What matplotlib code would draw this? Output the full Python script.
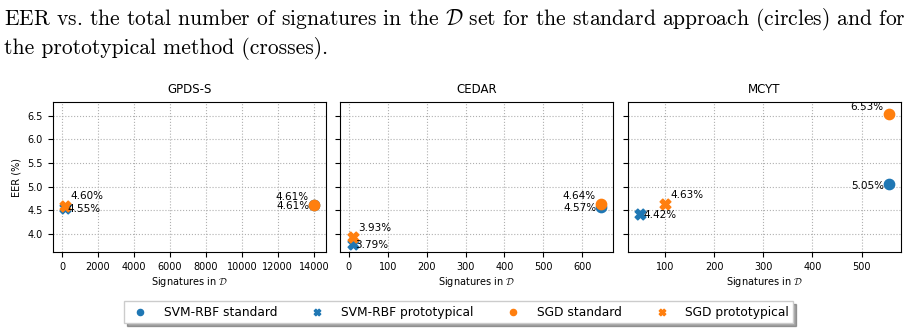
import matplotlib
matplotlib.use("Agg")
import matplotlib.pyplot as plt

plt.rcParams['mathtext.fontset'] = 'cm'

datasets = ["GPDS-S", "CEDAR", "MCYT"]
# x: number of signatures in D, y: EER (%)
svm_std_x = [14000, 648, 555]
svm_std_y = [4.61, 4.57, 5.05]
svm_proto_x = [150, 10, 50]
svm_proto_y = [4.55, 3.79, 4.42]
sgd_std_x = [14000, 648, 555]
sgd_std_y = [4.61, 4.64, 6.53]
sgd_proto_x = [150, 10, 100]
sgd_proto_y = [4.60, 3.93, 4.63]

xticks = [
    [0, 2000, 4000, 6000, 8000, 10000, 12000, 14000],
    [0, 100, 200, 300, 400, 500, 600],
    [100, 200, 300, 400, 500],
]
yticks = [4.0, 4.5, 5.0, 5.5, 6.0, 6.5]

blue = '#1f77b4'
orange = '#ff7f0e'

fig = plt.figure(figsize=(9.15, 3.32), dpi=100)

fig.text(0.004, 0.925, r"EER vs. the total number of signatures in the $\mathcal{D}$ set for the standard approach (circles) and for",
         fontfamily='cmr10', fontsize=15.5, ha='left', va='baseline')
fig.text(0.004, 0.837, "the prototypical method (crosses).",
         fontfamily='cmr10', fontsize=15.5, ha='left', va='baseline')

lefts = [0.0576, 0.3719, 0.6863]
width = 0.2985
bottom = 0.240
height = 0.4537

axes = []
for i, name in enumerate(datasets):
    ax = fig.add_axes([lefts[i], bottom, width, height])
    axes.append(ax)
    ax.grid(True, linestyle=':', color='#b0b0b0', linewidth=0.8)
    ax.set_axisbelow(True)
    h1 = ax.scatter([svm_std_x[i]], [svm_std_y[i]], marker='o', s=55, color=blue, label='SVM-RBF standard', zorder=3)
    h2 = ax.scatter([svm_proto_x[i]], [svm_proto_y[i]], marker='X', s=60, color=blue, label='SVM-RBF prototypical', zorder=3)
    h3 = ax.scatter([sgd_std_x[i]], [sgd_std_y[i]], marker='o', s=55, color=orange, label='SGD standard', zorder=3)
    h4 = ax.scatter([sgd_proto_x[i]], [sgd_proto_y[i]], marker='X', s=60, color=orange, label='SGD prototypical', zorder=3)

    fs = 7.5
    ax.annotate(f"{svm_std_y[i]:.2f}%", (svm_std_x[i], svm_std_y[i]), xytext=(-3, -1),
                textcoords='offset points', ha='right', va='center', fontsize=fs)
    ax.annotate(f"{sgd_std_y[i]:.2f}%", (sgd_std_x[i], sgd_std_y[i]), xytext=(-4, 2),
                textcoords='offset points', ha='right', va='bottom', fontsize=fs)
    ax.annotate(f"{svm_proto_y[i]:.2f}%", (svm_proto_x[i], svm_proto_y[i]), xytext=(2, -1),
                textcoords='offset points', ha='left', va='center', fontsize=fs)
    ax.annotate(f"{sgd_proto_y[i]:.2f}%", (sgd_proto_x[i], sgd_proto_y[i]), xytext=(4, 3),
                textcoords='offset points', ha='left', va='bottom', fontsize=fs)

    ax.set_ylim(3.61, 6.80)
    ax.set_yticks(yticks)
    ax.set_xticks(xticks[i])
    ax.tick_params(labelsize=7)
    ax.set_title(name, fontsize=8.5)
    ax.set_xlabel(r"Signatures in $\mathcal{D}$", fontsize=7, labelpad=2)
    if i == 0:
        ax.set_ylabel("EER (%)", fontsize=7)
    else:
        ax.tick_params(labelleft=False)
    handles = [h1, h2, h3, h4]

axes[0].set_xlim(-520, 14670)

fig.legend(handles=handles, labels=[h.get_label() for h in handles], loc='center',
           bbox_to_anchor=(0.501, 0.06), ncol=4, fontsize=8.8, shadow=True,
           fancybox=False, columnspacing=2.3, handletextpad=0.9, borderpad=0.35,
           markerscale=0.6)

fig.savefig("out.png", dpi=100)
